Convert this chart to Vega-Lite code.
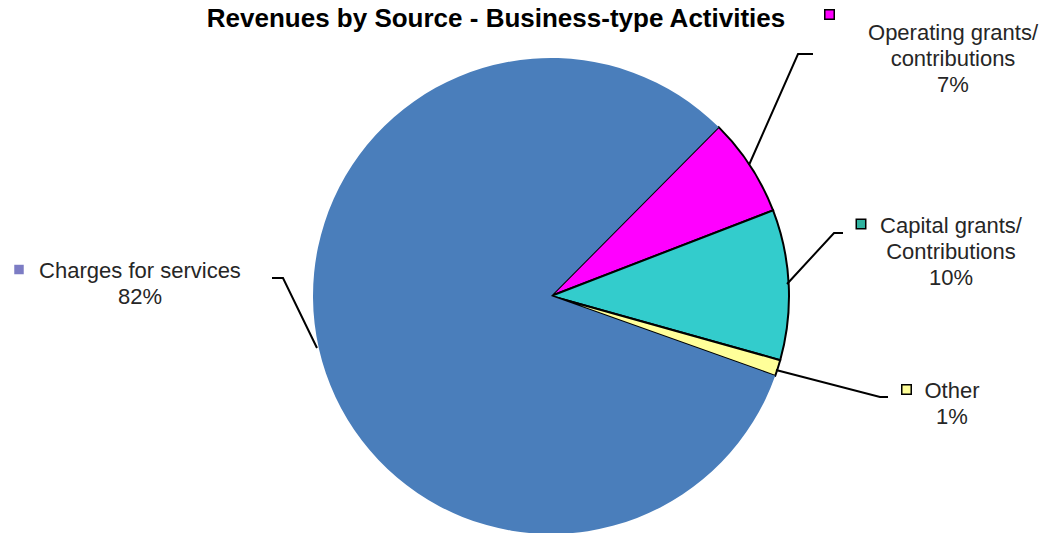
{
  "$schema": "https://vega.github.io/schema/vega-lite/v6.json",
  "width": 1044,
  "height": 533,
  "padding": 0,
  "autosize": {"type": "none"},
  "background": "white",
  "config": {"view": {"stroke": null}},
  "datasets": {
    "pie": [
      {"category": "Operating grants/contributions", "value": 6.7, "idx": 1},
      {"category": "Capital grants/Contributions", "value": 10.2, "idx": 2},
      {"category": "Other", "value": 1.1, "idx": 3},
      {"category": "Charges for services", "value": 82.0, "idx": 4}
    ],
    "labels": [
      {"category": "Charges for services", "text": "Charges for services\n82%", "lx": -1.7269, "ly": 0.0756, "mx": -2.2353, "my": 0.1113},
      {"category": "Operating grants/contributions", "text": "Operating grants/\ncontributions\n7%", "lx": 1.6891, "ly": 1.0756, "mx": 1.1702, "my": 1.1828},
      {"category": "Capital grants/Contributions", "text": "Capital grants/\nContributions\n10%", "lx": 1.6807, "ly": 0.2647, "mx": 1.3025, "my": 0.3025},
      {"category": "Other", "text": "Other\n1%", "lx": 1.6849, "ly": -0.4286, "mx": 1.4937, "my": -0.3929}
    ],
    "leaders": [
      {"id": "Charges", "seq": 1, "x": -1.1723, "y": 0.0756},
      {"id": "Charges", "seq": 2, "x": -1.1261, "y": 0.0756},
      {"id": "Charges", "seq": 3, "x": -0.9832, "y": -0.2185},
      {"id": "Operating", "seq": 1, "x": 1.1008, "y": 1.0168},
      {"id": "Operating", "seq": 2, "x": 1.0378, "y": 1.0168},
      {"id": "Operating", "seq": 3, "x": 0.8319, "y": 0.5504},
      {"id": "Capital", "seq": 1, "x": 1.2269, "y": 0.2647},
      {"id": "Capital", "seq": 2, "x": 1.1891, "y": 0.2647},
      {"id": "Capital", "seq": 3, "x": 0.9916, "y": 0.0504},
      {"id": "Other", "seq": 1, "x": 1.4160, "y": -0.4244},
      {"id": "Other", "seq": 2, "x": 1.3824, "y": -0.4244},
      {"id": "Other", "seq": 3, "x": 0.9454, "y": -0.3109}
    ]
  },
  "layer": [
    {
      "data": {"name": "pie"},
      "mark": {"type": "arc", "outerRadius": 238, "stroke": "black"},
      "encoding": {
        "x": {"datum": 0, "type": "quantitative", "scale": {"domain": [-2.31513, 2.07143], "nice": false, "zero": false}, "axis": null},
        "y": {"datum": 0, "type": "quantitative", "scale": {"domain": [-0.9958, 1.2437], "nice": false, "zero": false}, "axis": null},
        "theta": {"field": "value", "type": "quantitative", "stack": true, "scale": {"range": [0.7819, 7.0651]}},
        "order": {"field": "idx", "type": "quantitative"},
        "color": {
          "field": "category", "type": "nominal", "legend": null,
          "scale": {
            "domain": ["Operating grants/contributions", "Capital grants/Contributions", "Other", "Charges for services"],
            "range": ["#ff00ff", "#33cccc", "#ffff99", "#4a7ebb"]
          }
        },
        "strokeWidth": {"condition": {"test": "datum.category === 'Charges for services'", "value": 0}, "value": 2}
      }
    },
    {
      "data": {"name": "leaders"},
      "mark": {"type": "line", "color": "black", "strokeWidth": 2},
      "encoding": {
        "x": {"field": "x", "type": "quantitative"},
        "y": {"field": "y", "type": "quantitative"},
        "detail": {"field": "id"},
        "order": {"field": "seq", "type": "quantitative"}
      }
    },
    {
      "data": {"name": "labels"},
      "mark": {"type": "point", "shape": "square", "size": 90, "filled": true, "opacity": 1, "stroke": "black"},
      "encoding": {
        "x": {"field": "mx", "type": "quantitative"},
        "y": {"field": "my", "type": "quantitative"},
        "fill": {
          "field": "category", "type": "nominal", "legend": null,
          "scale": {
            "domain": ["Operating grants/contributions", "Capital grants/Contributions", "Other", "Charges for services"],
            "range": ["#ff00ff", "#2fb3a0", "#ffff99", "#7c7cc4"]
          }
        },
        "strokeWidth": {"condition": {"test": "datum.category === 'Charges for services'", "value": 0}, "value": 1.5}
      }
    },
    {
      "data": {"name": "labels"},
      "mark": {"type": "text", "align": "center", "baseline": "alphabetic", "lineBreak": "\n", "lineHeight": 26, "font": "Liberation Sans", "fontSize": 22, "color": "#262626"},
      "encoding": {
        "x": {"field": "lx", "type": "quantitative"},
        "y": {"field": "ly", "type": "quantitative"},
        "text": {"field": "text"}
      }
    },
    {
      "data": {"values": [{}]},
      "mark": {"type": "text", "align": "center", "baseline": "alphabetic", "font": "Liberation Sans", "fontSize": 26, "fontWeight": "bold", "color": "black"},
      "encoding": {
        "x": {"datum": -0.2311, "type": "quantitative"},
        "y": {"datum": 1.1303, "type": "quantitative"},
        "text": {"value": "Revenues by Source - Business-type Activities"}
      }
    }
  ]
}
